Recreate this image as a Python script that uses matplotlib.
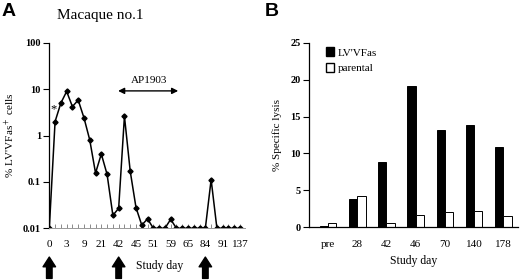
import matplotlib
matplotlib.use("Agg")
import matplotlib.pyplot as plt
from matplotlib.patches import Patch
import numpy as np

plt.rcParams['font.family'] = ['Liberation Serif', 'DejaVu Serif']
plt.rcParams['mathtext.fontset'] = 'stix'

# Panel A: % LV'VFas+ cells per sample (one value per sampling point)
lv_cells = [0.01, 2.0, 5.0, 8.9, 4.2, 5.8, 2.4, 0.8, 0.155, 0.40, 0.145, 0.019,
            0.027, 2.6, 0.17, 0.028, 0.0117, 0.016, 0.01, 0.01, 0.01, 0.0156,
            0.01, 0.01, 0.01, 0.01, 0.01, 0.01, 0.112, 0.01, 0.01, 0.01, 0.01, 0.01]
labelled_days = ['0', '3', '9', '21', '42', '45', '51', '59', '65', '84', '91', '137']
injection_points = [0, 12, 27]   # sample index of days 0, 42, 84

# Panel B: % specific lysis
lysis_days = ['pre', '28', '42', '46', '70', '140', '178']
lysis_lv = [0.15, 3.9, 8.9, 19.2, 13.2, 13.8, 10.9]
lysis_parental = [0.6, 4.2, 0.6, 1.65, 2.1, 2.2, 1.5]

fig = plt.figure(figsize=(5.2, 2.8), dpi=100)

# ---------------- Panel A ----------------
axA = fig.add_axes([49.3 / 520, 1 - 228.3 / 280, (245 - 49.3) / 520, (228.3 - 42.7) / 280])
idx = np.arange(len(lv_cells))
axA.plot(idx, lv_cells, color='black', lw=1.1, marker='D', markersize=2.6)
axA.set_yscale('log')
axA.set_ylim(0.01, 100)
axA.set_xlim(0, 33.86)
axA.set_yticks([0.01, 0.1, 1, 10, 100])
axA.set_yticklabels(['0.01', '0.1', '1', '10', '100'], fontsize=7.5, fontweight='bold')
axA.yaxis.set_minor_locator(matplotlib.ticker.NullLocator())
axA.tick_params(axis='y', direction='out', length=4, width=0.8, pad=2)
axA.set_xticks(idx, minor=True)
axA.set_xticks(idx[::3])
axA.set_xticklabels(labelled_days, fontsize=8)
axA.tick_params(axis='x', which='both', direction='in', length=3, width=0.6,
                color='#777777', pad=8.5)
for s in ['top', 'right']:
    axA.spines[s].set_visible(False)
axA.spines['bottom'].set_color('#999999')
axA.spines['bottom'].set_linewidth(0.7)
axA.spines['left'].set_linewidth(0.9)
axA.set_ylabel("% LV'VFas$^+$ cells", fontsize=8, labelpad=4)

axA.text(0.75, 3.6, '*', fontsize=9, ha='center', va='center')
axA.annotate('', xy=(22.3, 9.15), xytext=(11.9, 9.15),
             arrowprops=dict(arrowstyle='<|-|>', color='black', lw=1.0, mutation_scale=9,
                             shrinkA=0, shrinkB=0))
axA.text(17.2, 15.5, 'AP1903', fontsize=8, ha='center', va='center')

for pos in injection_points:
    axA.annotate('', xy=(pos, -0.155), xytext=(pos, -0.27),
                 xycoords=('data', 'axes fraction'), textcoords=('data', 'axes fraction'),
                 arrowprops=dict(arrowstyle='simple,head_width=0.9,head_length=0.7,tail_width=0.4',
                                 color='black', shrinkA=0, shrinkB=0))
fig.text(160 / 520, 1 - 266 / 280, 'Study day', fontsize=8.5, ha='center', va='center')
fig.text(100 / 520, 1 - 15 / 280, 'Macaque no.1', fontsize=11, ha='center', va='center')
fig.text(2 / 520, 1 - 12 / 280, 'A', fontsize=14, fontweight='bold',
         family='Liberation Sans', ha='left', va='center')

# ---------------- Panel B ----------------
axB = fig.add_axes([309.3 / 520, 1 - 227.3 / 280, (518 - 309.3) / 520, (227.3 - 42.7) / 280])
xb = np.arange(len(lysis_days))
w = 0.285
axB.bar(xb - w / 2, lysis_lv, width=w, color='black', edgecolor='black', lw=0.7)
axB.bar(xb + w / 2, lysis_parental, width=w, color='white', edgecolor='black', lw=0.7)
axB.set_xlim(-0.64, 6.5)
axB.set_ylim(0, 25)
axB.set_yticks([0, 5, 10, 15, 20, 25])
axB.set_yticklabels(['0', '5', '10', '15', '20', '25'], fontsize=7.5, fontweight='bold')
axB.tick_params(axis='y', direction='out', length=4, width=0.8, pad=2)
axB.set_xticks(xb)
axB.set_xticklabels(lysis_days, fontsize=8)
axB.tick_params(axis='x', length=0, pad=9.5)
for s in ['top', 'right']:
    axB.spines[s].set_visible(False)
axB.spines['left'].set_linewidth(0.9)
axB.spines['bottom'].set_linewidth(0.9)
axB.set_ylabel('% Specific lysis', fontsize=8, labelpad=6)
axB.set_xlabel('Study day', fontsize=8.5, labelpad=4)
handles = [Patch(facecolor='black', edgecolor='black', label="LV'VFas"),
           Patch(facecolor='white', edgecolor='black', label='parental')]
axB.legend(handles=handles, loc='upper left', bbox_to_anchor=(0.06, 1.0), frameon=False,
           fontsize=8, handlelength=0.7, handleheight=0.9, handletextpad=0.3,
           labelspacing=0.45, borderaxespad=0)
fig.text(265 / 520, 1 - 12 / 280, 'B', fontsize=14, fontweight='bold',
         family='Liberation Sans', ha='left', va='center')

fig.savefig('out.png', dpi=100)
